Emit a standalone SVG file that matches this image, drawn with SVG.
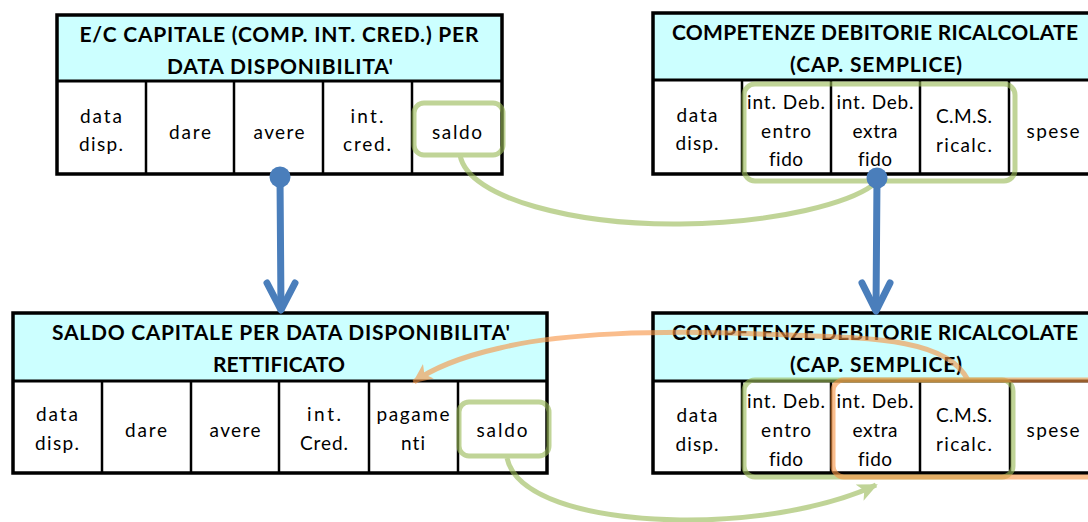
<svg xmlns="http://www.w3.org/2000/svg" width="1088" height="522" viewBox="0 0 1088 522">
<style>
.hdr{fill:#CCFFFF;stroke:none}
.box{fill:none;stroke:#000;stroke-width:3.5}
.ln{stroke:#000;stroke-width:2.5}
.ht{font-family:Lato,"Liberation Sans",sans-serif;font-weight:bold;font-size:21px;fill:#000;text-anchor:middle}
.ct{font-family:Lato,"Liberation Sans",sans-serif;font-size:19px;fill:#000;text-anchor:middle;font-variant-ligatures:none}
.gb{fill:none;stroke:#9BBB59;stroke-width:5}
.ob{fill:none;stroke:#F79646;stroke-width:5}
.blue{stroke:#4A7EBB;stroke-width:7;stroke-linecap:round;stroke-linejoin:round;fill:none}
</style>
<defs>
<marker id="ag" markerUnits="userSpaceOnUse" markerWidth="24" markerHeight="24" refX="18" refY="10" orient="auto">
<path d="M0,1 L20,10 L0,19 L5,10 Z" fill="#9BBB59"/>
</marker>
<marker id="ao" markerUnits="userSpaceOnUse" markerWidth="24" markerHeight="24" refX="18" refY="10" orient="auto">
<path d="M0,1 L20,10 L0,19 L5,10 Z" fill="#F79646"/>
</marker>
</defs>

<g id="t1">
<rect class="hdr" x="57" y="15" width="445" height="66"/>
<rect x="57" y="81" width="445" height="93" fill="#fff"/>
<line class="ln" x1="146" y1="81" x2="146" y2="174"/>
<line class="ln" x1="234" y1="81" x2="234" y2="174"/>
<line class="ln" x1="323" y1="81" x2="323" y2="174"/>
<line class="ln" x1="412" y1="81" x2="412" y2="174"/>
<line x1="57" y1="81" x2="502" y2="81" stroke="#000" stroke-width="3"/>
<rect class="box" x="57" y="15" width="445" height="159"/>
<text class="ht" x="279" y="42" textLength="399">E/C CAPITALE (COMP. INT. CRED.) PER</text>
<text class="ht" x="280" y="74" textLength="226">DATA DISPONIBILITA'</text>
<text class="ct" x="101" y="123" textLength="42">data</text>
<text class="ct" x="101" y="151" textLength="44">disp.</text>
<text class="ct" x="190" y="139" textLength="42">dare</text>
<text class="ct" x="279" y="139" textLength="51">avere</text>
<text class="ct" x="367" y="123" textLength="33">int.</text>
<text class="ct" x="367" y="151" textLength="48">cred.</text>
<text class="ct" x="457" y="139" textLength="50">saldo</text>
</g>

<g id="t2">
<rect class="hdr" x="653" y="13" width="445" height="67"/>
<rect x="653" y="80" width="445" height="94" fill="#fff"/>
<line class="ln" x1="742" y1="80" x2="742" y2="174"/>
<line class="ln" x1="831" y1="80" x2="831" y2="174"/>
<line class="ln" x1="920" y1="80" x2="920" y2="174"/>
<line class="ln" x1="1009" y1="80" x2="1009" y2="174"/>
<line x1="653" y1="80" x2="1098" y2="80" stroke="#000" stroke-width="3"/>
<rect class="box" x="653" y="13" width="445" height="161"/>
<text class="ht" x="875" y="40" textLength="406">COMPETENZE DEBITORIE RICALCOLATE</text>
<text class="ht" x="876" y="72" textLength="172">(CAP. SEMPLICE)</text>
<text class="ct" x="697" y="122" textLength="41">data</text>
<text class="ct" x="697" y="150" textLength="43">disp.</text>
<text class="ct" x="786" y="109" textLength="78">int. Deb.</text>
<text class="ct" x="786" y="138" textLength="50">entro</text>
<text class="ct" x="786" y="166" textLength="34">fido</text>
<text class="ct" x="875" y="109" textLength="77">int. Deb.</text>
<text class="ct" x="875" y="138" textLength="45">extra</text>
<text class="ct" x="875" y="166" textLength="34">fido</text>
<text class="ct" x="964" y="123" textLength="56">C.M.S.</text>
<text class="ct" x="964" y="152" textLength="56">ricalc.</text>
<text class="ct" x="1053" y="138" textLength="53">spese</text>
</g>

<g id="t3">
<rect class="hdr" x="13" y="313" width="534" height="68"/>
<rect x="13" y="381" width="534" height="92" fill="#fff"/>
<line class="ln" x1="102" y1="381" x2="102" y2="473"/>
<line class="ln" x1="191" y1="381" x2="191" y2="473"/>
<line class="ln" x1="279" y1="381" x2="279" y2="473"/>
<line class="ln" x1="369" y1="381" x2="369" y2="473"/>
<line class="ln" x1="458" y1="381" x2="458" y2="473"/>
<line x1="13" y1="381" x2="547" y2="381" stroke="#000" stroke-width="3"/>
<rect class="box" x="13" y="313" width="534" height="160"/>
<text class="ht" x="281" y="340" textLength="458">SALDO CAPITALE PER DATA DISPONIBILITA'</text>
<text class="ht" x="279" y="372" textLength="132">RETTIFICATO</text>
<text class="ct" x="57" y="421" textLength="42">data</text>
<text class="ct" x="57" y="450" textLength="44">disp.</text>
<text class="ct" x="146" y="437" textLength="42">dare</text>
<text class="ct" x="235" y="437" textLength="51">avere</text>
<text class="ct" x="324" y="421" textLength="34">int.</text>
<text class="ct" x="324" y="450" textLength="48">Cred.</text>
<text class="ct" x="413" y="421" textLength="73">pagame</text>
<text class="ct" x="413" y="450" textLength="24">nti</text>
<text class="ct" x="502" y="437" textLength="51">saldo</text>
</g>

<g id="t4">
<rect class="hdr" x="653" y="313" width="445" height="68"/>
<rect x="653" y="381" width="445" height="92" fill="#fff"/>
<line class="ln" x1="742" y1="381" x2="742" y2="473"/>
<line class="ln" x1="831" y1="381" x2="831" y2="473"/>
<line class="ln" x1="920" y1="381" x2="920" y2="473"/>
<line class="ln" x1="1010" y1="381" x2="1010" y2="473"/>
<line x1="653" y1="381" x2="1098" y2="381" stroke="#000" stroke-width="3"/>
<rect class="box" x="653" y="313" width="445" height="160"/>
<text class="ht" x="875" y="340" textLength="406">COMPETENZE DEBITORIE RICALCOLATE</text>
<text class="ht" x="876" y="372" textLength="172">(CAP. SEMPLICE)</text>
<text class="ct" x="697" y="422" textLength="41">data</text>
<text class="ct" x="697" y="451" textLength="43">disp.</text>
<text class="ct" x="786" y="408" textLength="78">int. Deb.</text>
<text class="ct" x="786" y="437" textLength="50">entro</text>
<text class="ct" x="786" y="466" textLength="34">fido</text>
<text class="ct" x="875" y="408" textLength="77">int. Deb.</text>
<text class="ct" x="875" y="437" textLength="45">extra</text>
<text class="ct" x="875" y="466" textLength="34">fido</text>
<text class="ct" x="964" y="422" textLength="56">C.M.S.</text>
<text class="ct" x="964" y="451" textLength="56">ricalc.</text>
<text class="ct" x="1053" y="437" textLength="53">spese</text>
</g>

<g id="connectors">
<g opacity="0.62">
<rect class="gb" x="414" y="103" width="89" height="52" rx="10"/>
<rect class="gb" x="744" y="84" width="271" height="97" rx="11"/>
<path class="gb" d="M460,155 C468,200 580,225 680,224 C780,223 850,202 873,185"/>
</g>
<g opacity="0.62">
<rect class="gb" x="459" y="402" width="90" height="54" rx="10"/>
<rect class="gb" x="744" y="380" width="269" height="97" rx="11"/>
<path class="gb" d="M507,458 C515,495 580,518 680,520 C770,521 840,502 876,485" marker-end="url(#ag)"/>
</g>
<g opacity="0.62">
<rect class="ob" x="833" y="380" width="280" height="97" rx="11"/>
<path class="ob" d="M968,380 C945,335 860,338 760,334 C660,330 560,333 500,348 C460,357 430,370 414,382" marker-end="url(#ao)"/>
</g>
<g id="blue1">
<line class="blue" x1="280" y1="177" x2="281" y2="309"/>
<polyline class="blue" points="267,283 281,310 295,283"/>
<circle cx="280" cy="177" r="10.5" fill="#4A7EBB"/>
</g>
<g id="blue2">
<line class="blue" x1="877" y1="178" x2="876" y2="310"/>
<polyline class="blue" points="862,283 876,311 890,283"/>
<circle cx="877" cy="178" r="10.5" fill="#4A7EBB"/>
</g>
</g>
</svg>
